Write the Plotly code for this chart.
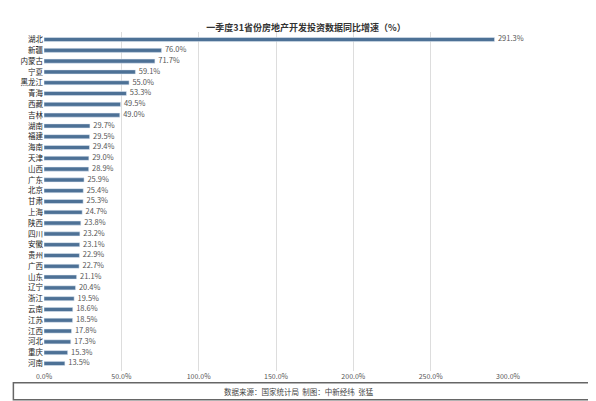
import plotly.graph_objects as go

provinces = ["湖北", "新疆", "内蒙古", "宁夏", "黑龙江", "青海", "西藏", "吉林", "湖南", "福建",
             "海南", "天津", "山西", "广东", "北京", "甘肃", "上海", "陕西", "四川", "安徽",
             "贵州", "广西", "山东", "辽宁", "浙江", "云南", "江苏", "江西", "河北", "重庆", "河南"]
growth = [291.3, 76.0, 71.7, 59.1, 55.0, 53.3, 49.5, 49.0, 29.7, 29.5,
          29.4, 29.0, 28.9, 25.9, 25.4, 25.3, 24.7, 23.8, 23.2, 23.1,
          22.9, 22.7, 21.1, 20.4, 19.5, 18.6, 18.5, 17.8, 17.3, 15.3, 13.5]
tick_vals = [0, 50, 100, 150, 200, 250, 300]
tick_text = ["0.0%", "50.0%", "100.0%", "150.0%", "200.0%", "250.0%", "300.0%"]

font = "Noto Sans CJK SC"

fig = go.Figure()
fig.add_trace(go.Bar(
    x=growth, y=provinces, orientation="h",
    marker_color="#4d7196", width=0.38,
))
# value labels as a separate text trace so they are not shrunk to bar thickness
fig.add_trace(go.Scatter(
    x=growth, y=provinces, mode="text",
    text=[f"  {v:.1f}%" for v in growth], textposition="middle right",
    textfont=dict(size=7.5, color="#555555", family=font),
    cliponaxis=False,
))

fig.update_layout(
    width=596, height=401,
    margin=dict(l=32, r=96, t=24, b=38),
    paper_bgcolor="white", plot_bgcolor="white",
    showlegend=False,
    title=dict(text="<b>一季度31省份房地产开发投资数据同比增速（%）</b>",
               x=0.5, y=0.958, xanchor="center",
               font=dict(size=9, color="#333333", family=font)),
    xaxis=dict(range=[0, 300], tickvals=tick_vals, ticktext=tick_text,
               showgrid=True, gridcolor="#dddddd", zeroline=False,
               tickfont=dict(size=7, color="#555555", family=font)),
    yaxis=dict(range=[30.7, -0.7], ticks="",
               tickfont=dict(size=7.5, color="#222222", family=font)),
    bargap=0.5,
)

fig.add_shape(type="rect", xref="paper", yref="paper",
              x0=-0.066, x1=1.2, y0=-0.085, y1=-0.035,
              line=dict(color="#666666", width=1.5), fillcolor="white")
fig.add_annotation(text="数据来源：国家统计局  制图：中新经纬  张猛",
                   xref="paper", yref="paper", x=0.55, y=-0.06, yanchor="middle",
                   showarrow=False, font=dict(size=7.5, color="#444444", family=font))

fig.write_html("out.html")
